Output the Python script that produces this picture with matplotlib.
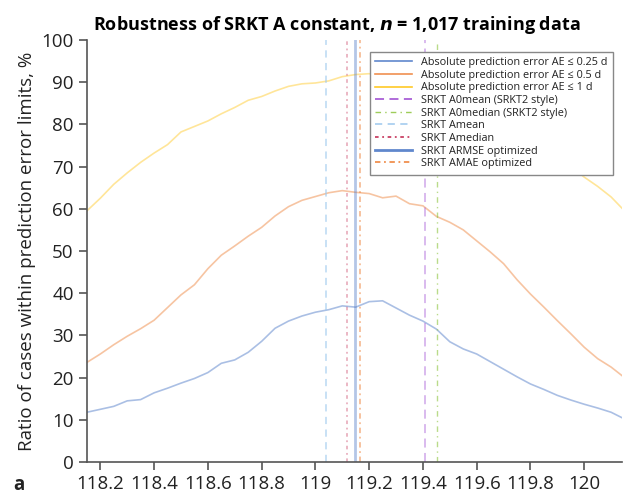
# Robustness of SRKT A constant -- ratio of cases within prediction error limits
import matplotlib
matplotlib.use('Agg')
import matplotlib.pyplot as plt
from matplotlib.ticker import MultipleLocator

plt.rcParams['font.family'] = ['Open Sans', 'DejaVu Sans']

# A constant grid (step 0.05)
a_const = [118.15, 118.20, 118.25, 118.30, 118.35, 118.40, 118.45, 118.50, 118.55,
           118.60, 118.65, 118.70, 118.75, 118.80, 118.85, 118.90, 118.95, 119.00,
           119.05, 119.10, 119.15, 119.20, 119.25, 119.30, 119.35, 119.40, 119.45,
           119.50, 119.55, 119.60, 119.65, 119.70, 119.75, 119.80, 119.85, 119.90,
           119.95, 120.00, 120.05, 120.10, 120.15]

# ratio of cases, %
ae_025 = [11.8, 12.5, 13.2, 14.5, 14.8, 16.4, 17.5, 18.7, 19.8, 21.2, 23.4, 24.2,
          26.0, 28.6, 31.7, 33.4, 34.6, 35.5, 36.1, 37.0, 36.7, 38.0, 38.2, 36.5,
          34.8, 33.4, 31.5, 28.5, 26.8, 25.6, 23.8, 22.0, 20.2, 18.5, 17.2, 15.8,
          14.7, 13.7, 12.8, 11.8, 10.2]
ae_05 = [23.6, 25.6, 27.8, 29.8, 31.6, 33.6, 36.6, 39.6, 42.0, 45.8, 49.0, 51.2,
         53.5, 55.6, 58.3, 60.5, 62.0, 62.9, 63.8, 64.3, 63.9, 63.6, 62.6, 63.0,
         61.2, 60.7, 58.2, 56.8, 55.0, 52.4, 49.8, 47.0, 43.2, 39.8, 36.7, 33.5,
         30.4, 27.2, 24.5, 22.5, 20.0]
ae_1 = [59.5, 62.5, 65.8, 68.5, 71.0, 73.2, 75.2, 78.2, 79.5, 80.8, 82.5, 84.0,
        85.7, 86.6, 87.9, 89.0, 89.6, 89.8, 90.3, 91.3, 91.8, 92.0, 91.3, 91.0,
        90.2, 89.5, 88.5, 87.3, 86.0, 84.5, 83.0, 81.0, 79.0, 77.0, 75.0, 72.5,
        70.0, 67.5, 65.3, 62.8, 59.5]

# optimised / derived A constants
a_names = ['SRKT A0mean (SRKT2 style)', 'SRKT A0median (SRKT2 style)', 'SRKT Amean',
           'SRKT Amedian', 'SRKT ARMSE optimized', 'SRKT AMAE optimized']
a_values = [119.407, 119.453, 119.040, 119.116, 119.146, 119.167]

x_ticks = [118.2, 118.4, 118.6, 118.8, 119.0, 119.2, 119.4, 119.6, 119.8, 120.0]
x_labels = ['118.2', '118.4', '118.6', '118.8', '119', '119.2', '119.4',
            '119.6', '119.8', '120']

fig = plt.figure(figsize=(6.25, 4.99), dpi=100)
ax = fig.add_axes([0.139, 0.074, 0.856, 0.846])

ax.plot(a_const, ae_025, color='#4472C4', alpha=0.45, lw=1.2,
        label='Absolute prediction error AE \u2264 0.25 d')
ax.plot(a_const, ae_05, color='#ED7D31', alpha=0.45, lw=1.2,
        label='Absolute prediction error AE \u2264 0.5 d')
ax.plot(a_const, ae_1, color='#FFC000', alpha=0.4, lw=1.2,
        label='Absolute prediction error AE \u2264 1 d')

vstyles = [
  dict(color='#9B45D0', ls=(0, (5, 3)), lw=1.3, alpha=0.4),
  dict(color='#8DC43C', ls=(0, (4, 3, 1, 3)), lw=1.0, alpha=0.6),
  dict(color='#9DC8EE', ls=(0, (4, 3)), lw=1.3, alpha=0.6),
  dict(color='#C0204A', ls=(0, (2, 2, 1, 2)), lw=1.3, alpha=0.35),
  dict(color='#4472C4', ls='-', lw=2.0, alpha=0.4),
  dict(color='#ED7D31', ls=(0, (3, 2, 1, 2)), lw=1.3, alpha=0.5),
]
for name, val, st in zip(a_names, a_values, vstyles):
  ax.axvline(val, label=name, **st)

ax.set_xlim(118.15, 120.14)
ax.set_ylim(0, 100)
ax.set_xticks(x_ticks)
ax.set_xticklabels(x_labels)
ax.yaxis.set_major_locator(MultipleLocator(10))

for side in ['top', 'right']:
  ax.spines[side].set_visible(False)
for side in ['left', 'bottom']:
  ax.spines[side].set_color('#555555')
  ax.spines[side].set_linewidth(1.2)
ax.tick_params(axis='both', labelsize=13.5, length=6, width=1.2, color='#555555',
               labelcolor='#222222')
ax.tick_params(axis='x', pad=3)

ax.set_ylabel('Ratio of cases within prediction error limits, %', fontsize=13.5,
              color='#222222', labelpad=4)
ax.set_title('Robustness of SRKT A constant, $\\boldsymbol{n}$ = 1,017 training data',
             fontsize=13, fontweight='bold', pad=7, x=0.467)

leg = ax.legend(loc='upper right', bbox_to_anchor=(0.983, 0.972), fontsize=7.8,
                frameon=True, fancybox=False, shadow=False, borderaxespad=0,
                handlelength=3.4, labelspacing=0.15, borderpad=0.5)
leg.get_frame().set_edgecolor('#888888')
leg.get_frame().set_linewidth(1.0)
leg.get_frame().set_alpha(1)
for t in leg.get_texts():
  t.set_color('#222222')
for h in leg.get_lines():
  h.set_alpha(0.85)

fig.text(0.022, 0.018, 'a', fontsize=13.5, fontweight='bold', color='#222222')

fig.savefig('out.png', dpi=100)
